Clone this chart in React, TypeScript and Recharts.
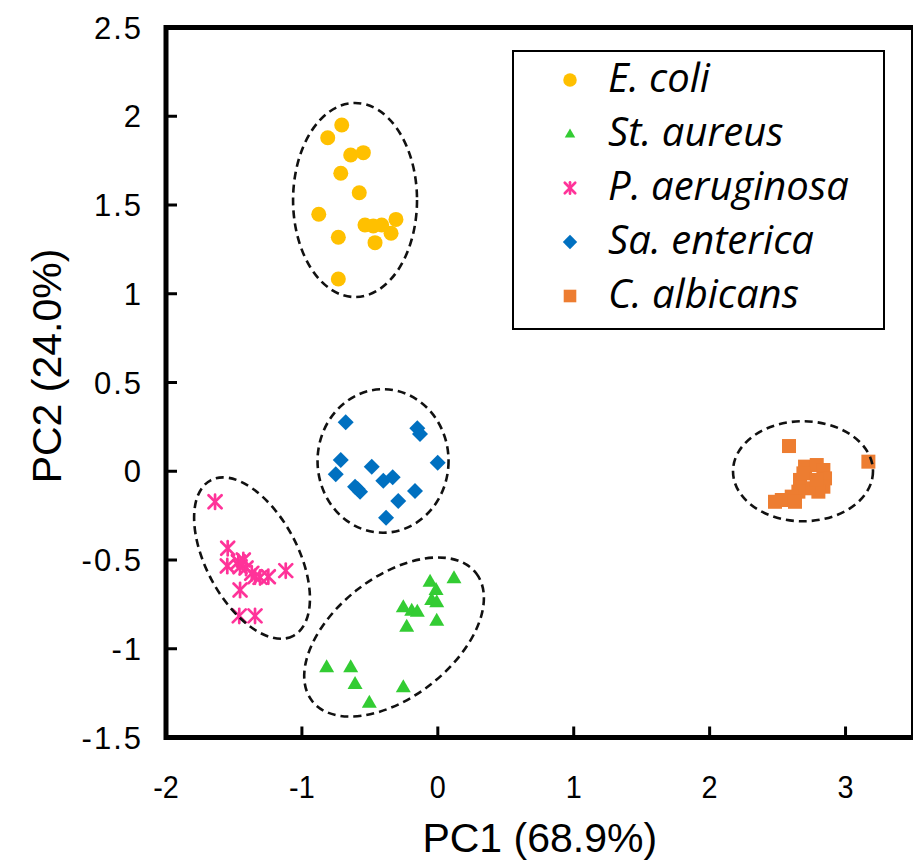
import React from 'react';
import { ScatterChart, Scatter, XAxis, YAxis, ReferenceArea, Legend } from 'recharts';

// ---------- data ----------
const X_TICKS = [-2, -1, 0, 1, 2, 3];
const Y_TICKS = [-1.5, -1, -0.5, 0, 0.5, 1, 1.5, 2, 2.5];
const X_DOMAIN: [number, number] = [-2, 3.5];
const Y_DOMAIN: [number, number] = [-1.5, 2.5];
const X_TITLE = 'PC1 (68.9%)';
const Y_TITLE = 'PC2 (24.0%)';
const SERIES_NAMES = ['E. coli', 'St. aureus', 'P. aeruginosa', 'Sa. enterica', 'C. albicans'];

const eColi = [
  { x: -0.707, y: 1.951 }, { x: -0.81, y: 1.879 }, { x: -0.641, y: 1.782 }, { x: -0.548, y: 1.795 },
  { x: -0.714, y: 1.679 }, { x: -0.578, y: 1.569 }, { x: -0.876, y: 1.448 }, { x: -0.536, y: 1.387 },
  { x: -0.475, y: 1.382 }, { x: -0.413, y: 1.387 }, { x: -0.308, y: 1.419 }, { x: -0.344, y: 1.341 },
  { x: -0.732, y: 1.318 }, { x: -0.462, y: 1.288 }, { x: -0.732, y: 1.083 },
];

const stAureus = [
  { x: -0.057, y: -0.622 }, { x: 0.119, y: -0.603 }, { x: -0.013, y: -0.669 }, { x: -0.045, y: -0.725 },
  { x: -0.008, y: -0.738 }, { x: -0.254, y: -0.766 }, { x: -0.192, y: -0.786 }, { x: -0.151, y: -0.791 },
  { x: -0.008, y: -0.842 }, { x: -0.229, y: -0.876 }, { x: -0.818, y: -1.104 }, { x: -0.641, y: -1.104 },
  { x: -0.609, y: -1.199 }, { x: -0.254, y: -1.217 }, { x: -0.504, y: -1.304 },
];

const pAeruginosa = [
  { x: -1.639, y: -0.172 }, { x: -1.546, y: -0.434 }, { x: -1.549, y: -0.534 }, { x: -1.468, y: -0.51 },
  { x: -1.431, y: -0.5 }, { x: -1.455, y: -0.538 }, { x: -1.369, y: -0.575 }, { x: -1.345, y: -0.594 },
  { x: -1.308, y: -0.598 }, { x: -1.247, y: -0.594 }, { x: -1.119, y: -0.56 }, { x: -1.455, y: -0.669 },
  { x: -1.461, y: -0.815 }, { x: -1.345, y: -0.815 }, { x: -1.411, y: -0.545 },
];

const saEnterica = [
  { x: -0.678, y: 0.276 }, { x: -0.151, y: 0.242 }, { x: -0.131, y: 0.21 }, { x: -0.714, y: 0.063 },
  { x: -0.001, y: 0.048 }, { x: -0.751, y: -0.017 }, { x: -0.486, y: 0.026 }, { x: -0.609, y: -0.087 },
  { x: -0.572, y: -0.115 }, { x: -0.401, y: -0.053 }, { x: -0.332, y: -0.034 }, { x: -0.168, y: -0.111 },
  { x: -0.291, y: -0.168 }, { x: -0.381, y: -0.262 }, { x: -0.59, y: -0.1 },
];

const cAlbicans = [
  { x: 2.584, y: 0.142 }, { x: 3.168, y: 0.054 }, { x: 2.702, y: 0.026 }, { x: 2.788, y: 0.035 },
  { x: 2.837, y: 0.007 }, { x: 2.849, y: -0.04 }, { x: 2.837, y: -0.087 }, { x: 2.8, y: -0.115 },
  { x: 2.726, y: -0.096 }, { x: 2.665, y: -0.049 }, { x: 2.69, y: -0.012 }, { x: 2.653, y: -0.115 },
  { x: 2.604, y: -0.143 }, { x: 2.531, y: -0.162 }, { x: 2.481, y: -0.172 }, { x: 2.628, y: -0.172 },
  { x: 2.788, y: -0.049 },
];

// cluster ellipses: centre (x, y), semi-axes a, b in PC1 units, rotation in degrees
const clusterEllipses = [
  { x: -0.609, y: 1.528, a: 0.456, b: 0.714, angle: 0 },
  { x: -0.403, y: 0.058, a: 0.482, b: 0.528, angle: 0 },
  { x: -1.367, y: -0.489, a: 0.648, b: 0.338, angle: 62 },
  { x: -0.322, y: -0.934, a: 0.765, b: 0.441, angle: -38 },
  { x: 2.687, y: 0.0, a: 0.515, b: 0.368, angle: 0 },
];

// ---------- layout ----------
const SVG_W = 930;
const SVG_H = 867;
const PLOT_LEFT = 166;
const PLOT_RIGHT = 913.5;
const PLOT_TOP = 27.5;
const PLOT_BOTTOM = 737.5;
const PX_PER_X = (PLOT_RIGHT - PLOT_LEFT) / (X_DOMAIN[1] - X_DOMAIN[0]);

const YELLOW = '#FFC000';
const GREEN = '#33CC33';
const PINK = '#FF3399';
const BLUE = '#0070C0';
const ORANGE = '#ED7D31';
const COLORS = [YELLOW, GREEN, PINK, BLUE, ORANGE];

const TICK_FONT = '"Liberation Sans", Arial, sans-serif';

// ---------- marker shapes ----------
const drawMarker = (kind: number, cx: number, cy: number, s: number) => {
  switch (kind) {
    case 0:
      return <circle cx={cx} cy={cy} r={7.5 * s} fill={YELLOW} />;
    case 1:
      return (
        <polygon
          points={`${cx},${cy - 8 * s} ${cx + 7.5 * s},${cy + 5 * s} ${cx - 7.5 * s},${cy + 5 * s}`}
          fill={GREEN}
        />
      );
    case 2: {
      const d = 6.5 * s;
      return (
        <g stroke={PINK} strokeWidth={2.7} strokeLinecap="round">
          <line x1={cx - d} y1={cy - d} x2={cx + d} y2={cy + d} />
          <line x1={cx - d} y1={cy + d} x2={cx + d} y2={cy - d} />
          <line x1={cx} y1={cy - d * 1.1} x2={cx} y2={cy + d * 1.1} />
        </g>
      );
    }
    case 3:
      return (
        <polygon
          points={`${cx},${cy - 8 * s} ${cx + 8 * s},${cy} ${cx},${cy + 8 * s} ${cx - 8 * s},${cy}`}
          fill={BLUE}
        />
      );
    default:
      return <rect x={cx - 7 * s} y={cy - 7 * s} width={14 * s} height={14 * s} fill={ORANGE} />;
  }
};

const makeShape = (kind: number) => (p: any) => drawMarker(kind, p.cx, p.cy, 1);

const EllipseShape = (p: any) => {
  const { cx, cy, payload } = p;
  return (
    <ellipse
      cx={cx}
      cy={cy}
      rx={payload.a * PX_PER_X}
      ry={payload.b * PX_PER_X}
      transform={`rotate(${payload.angle} ${cx} ${cy})`}
      fill="none"
      stroke="#111"
      strokeWidth={2.6}
      strokeDasharray="8 5"
    />
  );
};

// ---------- ticks & titles ----------
const XTick = (p: any) => (
  <text
    x={0}
    y={0}
    transform={`translate(${p.x}, ${p.y}) scale(0.9, 1)`}
    textAnchor="middle"
    fontFamily={TICK_FONT}
    fontSize={32}
    fill="#000"
  >
    {p.payload.value}
  </text>
);

const YTick = (p: any) => (
  <text x={p.x} y={p.y + 11} textAnchor="end" fontFamily={TICK_FONT} fontSize={31} fill="#000" letterSpacing={2}>
    {p.payload.value}
  </text>
);

const XTitle = () => (
  <text x={(PLOT_LEFT + PLOT_RIGHT) / 2} y={852} textAnchor="middle" fontFamily={TICK_FONT} fontSize={41} fill="#000">
    {X_TITLE}
  </text>
);

const YTitle = () => (
  <text
    x={0}
    y={0}
    transform={`translate(61, 366) rotate(-90)`}
    textAnchor="middle"
    fontFamily={TICK_FONT}
    fontSize={41}
    fill="#000"
  >
    {Y_TITLE}
  </text>
);

// ---------- legend ----------
const LEG_W = 373;
const LEG_H = 280;
const LegendBox = () => (
  <svg width={LEG_W} height={LEG_H} style={{ display: 'block' }}>
    <rect x={1} y={1} width={LEG_W - 2} height={LEG_H - 2} fill="#fff" stroke="#000" strokeWidth={2} />
    {SERIES_NAMES.map((name, i) => {
      const base = 42 + i * 54;
      return (
        <g key={name}>
          {drawMarker(i, 58, base - 12, i === 1 ? 0.7 : i === 2 ? 0.8 : 0.9)}
          <text x={96} y={base} fontFamily="'Open Sans', 'Noto Sans', sans-serif" fontStyle="italic" fontSize={40} fill="#000">
            {name}
          </text>
        </g>
      );
    })}
  </svg>
);

export default function App() {
  const series = [eColi, stAureus, pAeruginosa, saEnterica, cAlbicans];
  return (
    <div style={{ position: 'absolute', left: 0, top: 0, width: 913, height: 867, overflow: 'hidden', background: '#fff' }}>
      <ScatterChart
        width={SVG_W}
        height={SVG_H}
        margin={{ top: PLOT_TOP, right: SVG_W - PLOT_RIGHT, bottom: 0, left: 0 }}
      >
        <XAxis
          type="number"
          dataKey="x"
          domain={X_DOMAIN}
          ticks={X_TICKS}
          allowDataOverflow
          height={SVG_H - PLOT_BOTTOM}
          axisLine={false}
          tickLine={{ stroke: '#000', strokeWidth: 3 }}
          tickSize={-11}
          tickMargin={71}
          tick={<XTick />}
          interval={0}
          label={<XTitle />}
        />
        <YAxis
          type="number"
          dataKey="y"
          domain={Y_DOMAIN}
          ticks={Y_TICKS}
          allowDataOverflow
          width={PLOT_LEFT}
          axisLine={false}
          tickLine={{ stroke: '#000', strokeWidth: 3 }}
          tickSize={-11}
          tickMargin={34}
          tick={<YTick />}
          interval={0}
          label={<YTitle />}
        />
        <ReferenceArea
          x1={X_DOMAIN[0]}
          x2={X_DOMAIN[1]}
          y1={Y_DOMAIN[0]}
          y2={Y_DOMAIN[1]}
          fill="none"
          stroke="#000"
          strokeWidth={5}
          ifOverflow="visible"
        />
        {series.map((d, i) => (
          <Scatter
            key={SERIES_NAMES[i]}
            name={SERIES_NAMES[i]}
            data={d}
            fill={COLORS[i]}
            shape={makeShape(i)}
            isAnimationActive={false}
          />
        ))}
        <Scatter
          name="clusters"
          data={clusterEllipses}
          shape={EllipseShape}
          legendType="none"
          isAnimationActive={false}
        />
        <Legend
          layout="vertical"
          align="center"
          verticalAlign="middle"
          content={<LegendBox />}
          wrapperStyle={{ left: 512, top: 50, width: LEG_W, height: LEG_H, right: 'auto', bottom: 'auto' }}
        />
      </ScatterChart>
    </div>
  );
}
